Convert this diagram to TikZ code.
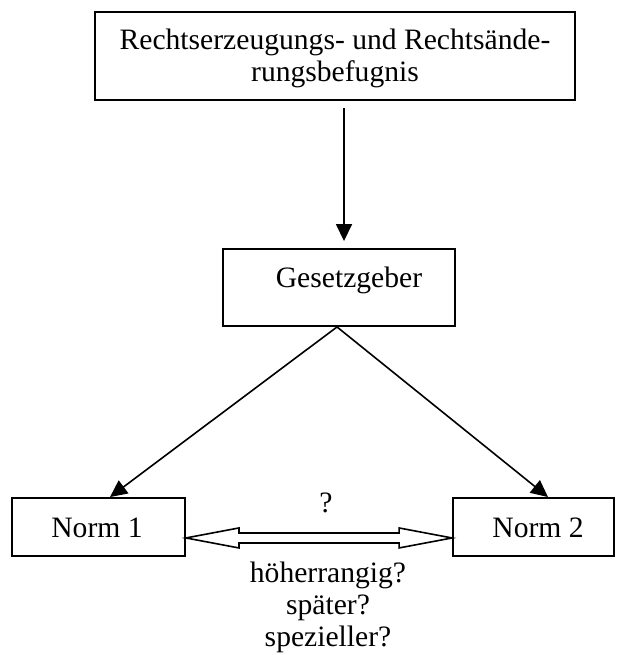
\documentclass[tikz,border=0pt]{standalone}
\usepackage{fontspec}
\setmainfont{Liberation Serif}
\usetikzlibrary{arrows.meta,calc}
\begin{document}
\begin{tikzpicture}[x=1pt,y=-1pt,
  box/.style={draw, line width=1.9pt, rectangle, inner sep=0pt},
  txt/.style={anchor=base, inner sep=0pt, font=\fontsize{29.6}{32}\selectfont},
  arr/.style={line width=1.6pt, -{Triangle[length=17pt,width=16pt]}}]
\useasboundingbox (0,0) rectangle (617,655);
% boxes
\node[box, minimum width=480pt, minimum height=88pt] (top) at (335,56) {};
\node[box, minimum width=232pt, minimum height=77pt] (g) at (339,287.5) {};
\node[box, minimum width=173pt, minimum height=58pt] (n1) at (98.5,527) {};
\node[box, minimum width=161pt, minimum height=58pt] (n2) at (533.5,527) {};
% texts
\node[txt] (t1a) at (335,50) {Rechtserzeugungs- und Rechtsände-};
\node[txt] (t1b) at (335,82) {rungsbefugnis};
\node[txt] (gt) at (349,287) {Gesetzgeber};
\node[txt] (n1t) at (97,537) {Norm 1};
\node[txt] (n2t) at (538,537) {Norm 2};
\node[txt] (q) at (326,512) {?};
\node[txt] (h1) at (328,582) {höherrangig?};
\node[txt] (h2) at (328,614) {später?};
\node[txt] (h3) at (328,646) {spezieller?};
% arrows
\draw[arr, shorten <=7pt, shorten >=7pt] ([xshift=9pt]top.south) -- ([xshift=5pt]g.north);
\draw[arr] ([xshift=-2pt]g.south) -- ([xshift=11.5pt]n1.north);
\draw[arr] ([xshift=-2pt]g.south) -- ([xshift=14.5pt]n2.north);
% double arrow
\coordinate (L) at ($(n1.south east)+(0,-19)$);
\coordinate (R) at ($(n2.south west)+(0,-19)$);
\draw[line width=1.6pt, line join=miter]
  (L) -- ($(L)+(53,-10)$) -- ($(L)+(53,-5)$) -- ($(R)+(-53,-5)$) -- ($(R)+(-53,-10)$)
  -- (R) -- ($(R)+(-53,10)$) -- ($(R)+(-53,5)$) -- ($(L)+(53,5)$) -- ($(L)+(53,10)$) -- cycle;
\end{tikzpicture}
\end{document}
